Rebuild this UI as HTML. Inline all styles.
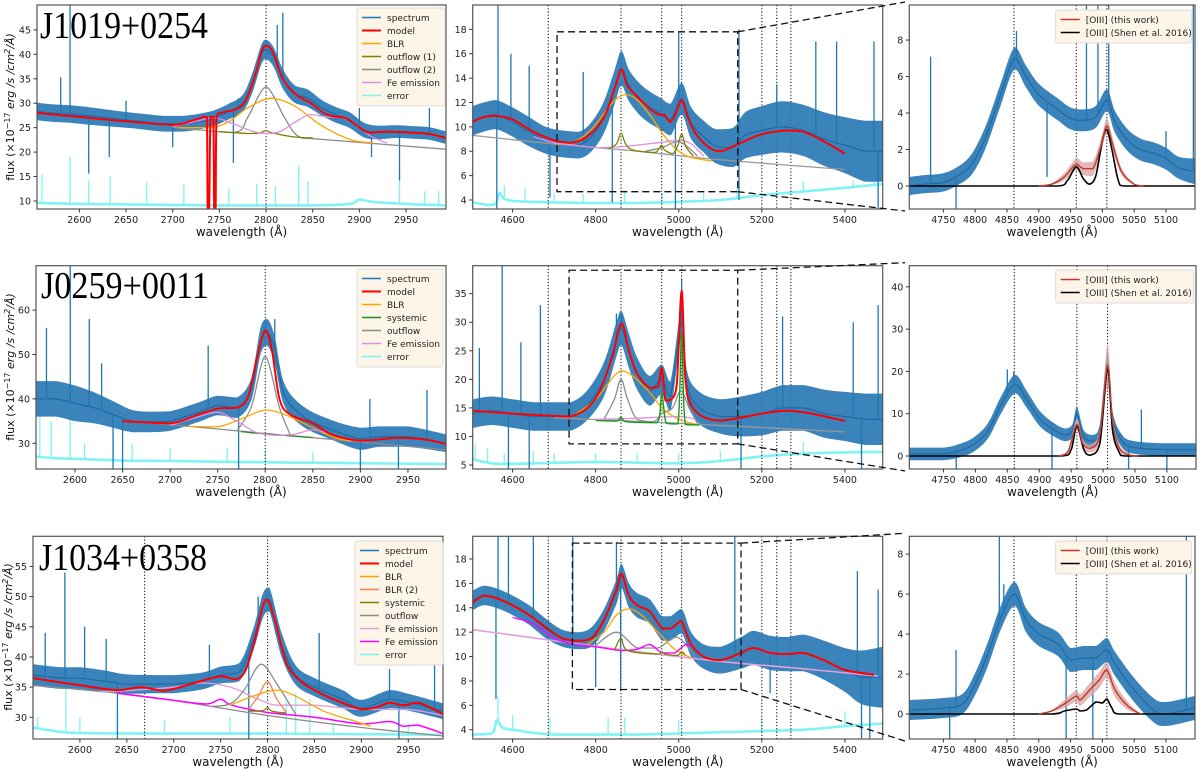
<!DOCTYPE html>
<html><head><meta charset="utf-8"><title>Spectral fits</title>
<style>
html,body{margin:0;padding:0;background:#fff;}
svg{display:block;font-family:"DejaVu Sans","Liberation Sans",sans-serif;}
</style></head>
<body>
<svg id="fig" width="1200" height="770" viewBox="0 0 1200 770" xmlns="http://www.w3.org/2000/svg"></svg>
<script>
// ===== Row 1 : J1019+0254 =====
const r1a_spec = [[2555,28.3,1.8],[2570,28,1.8],[2590,27.8,1.8],[2610,27.4,1.8],[2630,27,1.7],[2650,26.6,1.6],[2670,26.2,1.6],[2690,25.8,1.6],[2710,25.8,1.6],[2730,26.3,1.6],[2745,27,1.6],[2760,28.3,1.6],[2775,30,1.7],[2785,34,2],[2795,40,2],[2800,41,2],[2808,39.5,2],[2818,35,2],[2830,32,1.8],[2845,31,1.8],[2860,29,1.6],[2875,27.6,1.6],[2890,26.5,1.6],[2905,24.5,1.5],[2920,24,1.4],[2940,24.2,1.3],[2960,24,1.3],[2975,23.8,1.3],[2992,23,1.3]];
const r1a_spikes = [[2590,50],[2580,35.3],[2610,15.6],[2632,19],[2765,17.8],[2770,31],[2818,48.5],[2812,46],[2900,29],[2913,19],[2943,14.2],[2975,29],[2650,30.5],[2700,21]];
const r1a_model = [[2555,28],[2600,27.2],[2650,26.3],[2700,25.6],[2720,26.4],[2733,27.2],[2736.5,27.2],[2737.5,8],[2739,8],[2740.5,27.2],[2743.5,27.2],[2744.5,8],[2746,8],[2747,27.4],[2755,28.2],[2768,28.8],[2778,30.5],[2788,35.5],[2796,41],[2801,41.8],[2808,40.2],[2818,35],[2832,31.8],[2848,30],[2862,28],[2872,27.3],[2885,27],[2897,25.5],[2910,24],[2930,24.2],[2955,24],[2975,23.7],[2992,22.9]];
const r1a_blr = [[2705,25],[2740,25],[2760,26.2],[2780,29],[2805,31],[2830,29.5],[2855,26],[2875,23.8],[2895,22.3],[2915,21.9]];
const r1a_out2 = [[2700,25.1],[2765,24],[2780,27],[2792,31.5],[2800,33.3],[2808,31.5],[2820,27],[2835,23.2],[2860,22.6],[2992,20.6]];
const r1a_out1 = [[2750,24.2],[2780,23.8],[2793,23.9],[2800,24.4],[2807,23.9],[2830,23.1],[2850,22.9]];
const r1a_fe = [[2700,25.2],[2725,26.3],[2745,27],[2765,25.8],[2785,24.3],[2800,23.8],[2815,24.2],[2830,26],[2847,27.7],[2865,27.2],[2883,27],[2898,25.5],[2912,23.3],[2930,21.8]];
const r1a_err = [[2555,9.6],[2600,9.4],[2650,9.3],[2700,9.2],[2750,9.1],[2800,9.1],[2850,9.1],[2890,9.4],[2900,10.3],[2915,9.8],[2950,9.4],[2992,9.1]];
const r1a_errSpikes = [[2560,15.5],[2590,19],[2610,14.2],[2633,15],[2672,13.8],[2712,13.5],[2760,12.5],[2790,13.5],[2810,13],[2835,17.3],[2845,14],[2943,15.5],[2970,12],[2985,12]];
const r1a_vlines = [2800];

const r1b_spec = [[4504,10.5,1.2],[4530,10.8,1.2],[4560,11,1.2],[4600,10.4,1.2],[4640,9.6,1.2],[4680,8.9,1.1],[4720,8.6,1.1],[4760,8.5,1.1],[4790,9.2,1.2],[4820,10.8,1.3],[4845,13.2,1.4],[4862,14.8,1.4],[4880,13.4,1.3],[4905,12.3,1.3],[4930,11.6,1.3],[4955,11.1,1.3],[4980,10.6,1.3],[5007,12.3,1.3],[5030,10.3,1.3],[5060,9.2,1.3],[5090,8.4,1.4],[5130,8.3,1.6],[5160,9.3,1.9],[5200,9.7,2],[5250,10,2.1],[5300,9.7,2.1],[5350,9,2.2],[5400,8.5,2.3],[5450,8,2.5],[5491,8,2.5]];
const r1b_spikes = [[4565,20],[4562,3.3],[4596,16],[4640,15],[4690,4.2],[4770,14.5],[4840,3.8],[4992,3.3],[5000,17.8],[5145,18],[5145,4],[5330,17],[5380,17],[5470,17],[5480,3.3],[5236,13.5]];
const r1b_model = [[4504,10.4],[4530,10.8],[4560,10.9],[4600,10.6],[4650,9.6],[4700,8.9],[4740,8.7],[4780,9.2],[4820,10.8],[4848,13.4],[4862,14.7],[4876,13.4],[4900,12.5],[4930,11.5],[4952,11],[4965,11],[4980,10.4],[4995,11.3],[5007,12.2],[5020,11],[5040,9.5],[5070,8.4],[5100,8],[5150,8.7],[5200,9.4],[5260,9.7],[5300,9.6],[5350,8.8],[5400,7.8]];
const r1b_cont = [[4504,9.3],[4700,8.6],[4900,8],[5100,7.3],[5400,6.5]];
const r1b_blr = [[4700,8.6],[4750,8.8],[4790,9.8],[4825,11.3],[4850,12.3],[4875,12.65],[4900,12.2],[4930,11],[4960,9.5],[4990,8.3],[5020,7.6],[5060,7.3],[5080,7.2]];
const r1b_out1 = [[4830,8.2],[4850,8.6],[4861,9.5],[4872,8.6],[4890,8.1],[4940,7.9],[4952,8.2],[4959,8.5],[4966,8.1],[4985,7.8],[4997,8.4],[5007,9.4],[5017,8.4],[5035,7.6]];
const r1b_out2 = [[4920,8],[4960,8.3],[4985,8.7],[5000,8.8],[5020,8.4],[5045,7.6]];
const r1b_fe = [[4650,9.2],[4700,8.7],[4750,8.5],[4800,8.3],[4850,8.35],[4900,8.5],[4950,8.7],[5000,8.9],[5030,8.6],[5060,7.6]];
const r1b_err = [[4504,3.8],[4540,3.6],[4560,3.7],[4568,4.6],[4580,4.1],[4610,3.9],[4700,3.8],[4800,3.75],[4900,3.75],[5000,3.85],[5100,4],[5200,4.4],[5300,4.7],[5400,5],[5491,5.3]];
const r1b_errSpikes = [[4580,5.2],[4630,5],[4700,4.6],[4770,4.5],[4870,4.8],[4960,4.6],[5060,4.6],[5140,5],[5300,5.5],[5420,5.6],[5470,5.5]];
const r1b_box = [4707,5142,4.68,17.8];

const r1c_spec = [[4697,0,0.5],[4720,0.1,0.5],[4750,0.2,0.5],[4770,0.5,0.5],[4790,1,0.55],[4805,1.8,0.6],[4820,3,0.6],[4840,5,0.6],[4862,7,0.6],[4880,6,0.6],[4900,5,0.6],[4930,4.2,0.6],[4950,3.7,0.6],[4970,3.6,0.6],[4990,3.8,0.6],[5007,4.7,0.6],[5020,3.5,0.6],[5040,2.5,0.6],[5060,2,0.6],[5080,1.8,0.6],[5100,1.5,0.6],[5120,1,0.6],[5145,0.8,0.7]];
const r1c_spikes = [[4730,7.1],[4770,-1.26],[4865,8.5],[4975,9.92],[4993,9.92],[5010,9.92],[5143,9.92],[4913,0.5],[5100,3]];
const r1c_work = [[4900,0],[4920,0.1],[4940,0.5],[4955,1.1],[4960,1.2],[4970,0.95],[4985,0.95],[4998,2.2],[5007,3.3],[5016,2.3],[5030,0.8],[5050,0.1],[5065,0]];
const r1c_workErr = [0,0.05,0.2,0.3,0.35,0.35,0.4,0.4,0.4,0.35,0.2,0.05,0];
const r1c_shen = [[4697,0],[4930,0],[4945,0.3],[4959,1.05],[4970,0.4],[4980,0.1],[4990,0.6],[5000,2.5],[5007,3.1],[5015,2],[5025,0.3],[5035,0],[5145,0]];

// ===== Row 2 : J0259+0011 =====
const r2a_spec = [[2559,40,4],[2580,40,4],[2600,39,4],[2620,38,3.5],[2640,36.5,3],[2660,35,2.5],[2680,34.8,2.3],[2700,35,2.2],[2730,37,2.2],[2750,38.5,2.2],[2770,38,2.3],[2785,42,2.5],[2795,53,3],[2802,55,3],[2810,51,3],[2820,41,2.5],[2840,36,2.3],[2870,33,2.2],[2900,31,2.5],[2920,31.5,2.3],[2950,31.5,2.3],[2990,30,2]];
const r2a_spikes = [[2595,70],[2570,56],[2615,58],[2640,24.2],[2650,24.2],[2740,52],[2810,58],[2772,24.2],[2910,40],[2970,42],[2900,24.2],[2940,24.2],[2628,48]];
const r2a_model = [[2650,35],[2700,34.5],[2730,36.5],[2752,37.9],[2770,38],[2782,40.5],[2791,49],[2800,55.5],[2807,51],[2815,40],[2826,36.5],[2850,34.5],[2870,32],[2900,30.6],[2940,31.2],[2970,30.8],[2990,29.8]];
const r2a_cont = [[2650,35],[2700,34.2],[2800,32.2],[2900,30.3],[2990,28.5]];
const r2a_sys = [[2775,32.6],[2800,32.1],[2850,31.3]];
const r2a_blr = [[2720,33.8],[2750,33.7],[2775,35.5],[2800,37.5],[2820,36.5],[2850,33.5],[2870,31.5],[2890,30.4]];
const r2a_out = [[2770,32.7],[2785,38],[2795,47],[2800,49.5],[2805,47],[2815,38],[2826,32]];
const r2a_fe = [[2700,34],[2730,36],[2750,37],[2770,35],[2790,32.5],[2810,31.8],[2830,32],[2850,33],[2870,32],[2890,30.5]];
const r2a_err = [[2559,27],[2580,26.6],[2600,26.5],[2650,26.1],[2700,26],[2800,25.7],[2900,25.5],[2990,25.3]];
const r2a_errSpikes = [[2563,40],[2575,35],[2595,36],[2610,30],[2640,32],[2660,30],[2700,29],[2760,29],[2800,28.5],[2850,28],[2940,28]];
const r2a_vlines = [2800];

const r2b_spec = [[4504,14,2.5],[4550,14.5,2.5],[4600,14,2.5],[4650,13.5,2.5],[4700,13.5,2.5],[4740,13.5,2.5],[4780,15.5,2.6],[4820,20,3],[4850,27,3],[4862,29,3],[4880,25,3],[4900,21,2.8],[4930,18,2.6],[4959,20,2.6],[4980,17,2.6],[5007,30,2.5],[5020,19,2.5],[5050,15,2.8],[5100,13.5,3],[5150,13.5,3.5],[5200,14,3.8],[5250,15,4],[5300,15,4],[5350,14,4.2],[5400,13.5,4.3],[5450,13,4.5],[5491,13,4.5]];
const r2b_spikes = [[4575,39.9],[4667,33],[4620,26.5],[4520,25.5],[4850,31.5],[4862,31.5],[5007,37.5],[4590,4.3],[4640,4.3],[5150,4.3],[5250,31],[5480,33],[5420,30],[5440,4.3]];
const r2b_model = [[4504,14.5],[4600,14],[4700,13.6],[4740,13.5],[4780,15],[4810,18],[4840,24],[4862,29.8],[4880,25],[4900,21],[4930,18.5],[4950,18.7],[4959,22],[4968,16.3],[4980,16.4],[4995,19],[5007,35.5],[5016,20],[5030,15.5],[5060,13.4],[5100,12.8],[5150,13.3],[5200,14],[5260,14.5],[5320,14],[5400,12.7]];
const r2b_cont = [[4700,13.3],[5000,12.3],[5400,10.8]];
const r2b_sys = [[4800,12.8],[4850,12.7],[4861,13.4],[4872,12.6],[4948,12.4],[4959,17.5],[4970,12.3],[4998,12.2],[5007,28],[5016,12.1],[5050,12]];
const r2b_blr = [[4740,13.3],[4800,16.5],[4862,21.5],[4920,18.5],[4960,15],[5000,13],[5050,12]];
const r2b_out = [[4820,13],[4845,16.5],[4861,20],[4877,16.5],[4900,13],[4940,12.6],[4959,14],[4985,15],[5005,18],[5025,15],[5045,12.3]];
const r2b_fe = [[4800,13],[4900,13.2],[5000,13.5],[5040,13]];
const r2b_err = [[4504,6],[4550,5.3],[4600,5.2],[4800,5.5],[5000,5.3],[5100,5.7],[5200,6.5],[5300,7],[5400,7.2],[5491,7.3]];
const r2b_errSpikes = [[4510,8.5],[4540,8],[4580,7],[4650,7.5],[4700,7],[4800,7],[4900,7],[5000,7],[5100,7.5],[5300,9],[5440,9.5]];
const r2b_box = [4736,5142,8.7,39.1];

const r2c_spec = [[4697,0.5,1.5],[4750,0.5,1.5],[4780,1.5,1.6],[4800,3,1.7],[4820,6,1.8],[4840,12,2],[4862,17,2.2],[4880,13.5,2],[4900,9,1.8],[4920,6.5,1.6],[4940,5,1.5],[4952,6,1.5],[4959,10,1.6],[4970,4.5,1.5],[4985,3.5,1.5],[4995,6,1.5],[5007,22,2],[5015,9,1.6],[5030,3.5,1.5],[5050,2,1.5],[5100,1.5,1.5],[5145,1.5,1.5]];
const r2c_spikes = [[4850,20.5],[4860,20],[4770,-3],[4920,-3],[5060,11],[5040,-3],[5100,-3]];
const r2c_work = [[4930,0],[4945,1],[4959,7.5],[4968,3],[4980,1.8],[4995,5],[5007,21.5],[5015,8],[5025,2],[5040,0.3],[5055,0]];
const r2c_workErr = [0,0.5,1.5,1,1,1.5,5,2,1,0.3,0];
const r2c_shen = [[4697,0],[4935,0],[4950,1.5],[4959,7],[4970,1.5],[4980,0.2],[4995,3],[5007,20.5],[5015,6],[5025,1],[5035,0],[5145,0]];

// ===== Row 3 : J1034+0358 =====
const r3a_spec = [[2550,37,1.8],[2580,36.5,1.8],[2600,36.5,1.8],[2625,36,1.8],[2650,35.5,1.6],[2680,35.5,1.5],[2700,35.5,1.5],[2730,36,1.4],[2750,37,1.4],[2770,37.5,1.5],[2785,43,1.8],[2795,48.5,2],[2802,49.5,2],[2815,42,2],[2830,37,1.6],[2850,35,1.5],[2880,33,1.5],[2900,31.5,1.4],[2930,33,1.5],[2950,32.5,1.4],[2987,31,1.3]];
const r3a_spikes = [[2584,54],[2563,44],[2605,45],[2628,43],[2738,42],[2790,50],[2855,44],[2930,38],[2978,40],[2640,26.4],[2780,26.4],[2940,26.4]];
const r3a_model = [[2550,36.5],[2600,35.3],[2640,34.5],[2665,35],[2690,34.4],[2720,35.6],[2750,36.8],[2765,36.3],[2776,37.6],[2786,42.5],[2795,48.5],[2800,49.5],[2808,46],[2820,39],[2835,36],[2850,34.5],[2870,33],[2900,31.3],[2915,31.6],[2930,32.4],[2945,32],[2960,32.4],[2975,31.5],[2987,30.5]];
const r3a_cont = [[2550,35.3],[2640,34],[2700,32.8],[2800,30.3],[2900,28.3],[2987,26.9]];
const r3a_fe2 = [[2640,34],[2700,32.8],[2735,32.2],[2750,33],[2762,32],[2800,30.8],[2850,30],[2900,28.9],[2930,29.3],[2945,28.5],[2960,28.7],[2987,27.3]];
const r3a_fe = [[2620,34.2],[2660,34.5],[2700,35],[2730,35.7],[2760,35],[2790,33],[2810,32],[2850,32],[2900,31.3],[2950,31.3],[2987,30.3]];
const r3a_blr = [[2760,32],[2790,33.8],[2810,34.5],[2830,33.5],[2860,31],[2890,29.5],[2910,28.5]];
const r3a_blr2 = [[2780,31.3],[2790,33.5],[2800,35.9],[2810,33],[2820,30.8]];
const r3a_out = [[2740,31.8],[2760,32.2],[2775,34.5],[2793,38.8],[2810,35.5],[2830,30.5]];
const r3a_sys = [[2780,31],[2795,31.1],[2800,31.6],[2805,31],[2820,30.7]];
const r3a_err = [[2550,28.3],[2570,27.8],[2600,27.4],[2700,27.3],[2800,27.3],[2900,27.2],[2987,27.1]];
const r3a_errSpikes = [[2555,30],[2585,38],[2600,30],[2640,31],[2690,29.5],[2760,30],[2820,33],[2830,34],[2845,33],[2870,29],[2950,29]];
const r3a_vlines = [2669,2800];

const r3b_spec = [[4504,14.6,0.8],[4530,15,0.8],[4560,14.8,0.8],[4600,14.2,0.8],[4640,13.4,0.8],[4680,12.3,0.8],[4720,11.5,0.7],[4760,11.3,0.7],[4790,11.6,0.8],[4820,13,0.9],[4850,15.3,1],[4862,16.6,1],[4880,15,1],[4900,14.2,1],[4930,13.7,1],[4960,12.3,1],[4980,12.3,1],[5007,12.9,1],[5030,11,1],[5060,10,1],[5100,9.7,1.1],[5150,10.3,1.3],[5180,10.7,1.4],[5220,10.3,1.4],[5260,10.2,1.4],[5300,10.3,1.5],[5350,9.7,1.6],[5400,8.9,1.8],[5440,8.3,2.2],[5491,8.3,2.5]];
const r3b_spikes = [[4565,19.86],[4590,19.86],[4650,19.86],[4745,19.86],[4850,19.4],[5135,19.86],[5430,17],[5480,15.5],[4560,6.5],[4800,7.5],[4860,7.2],[5220,7],[5440,3.3],[5460,3.3]];
const r3b_model = [[4504,14.4],[4530,15],[4560,14.8],[4600,14.2],[4640,13.4],[4680,12.4],[4720,11.5],[4760,11.3],[4790,11.5],[4820,13],[4850,15.5],[4862,16.8],[4880,15],[4900,14.2],[4930,13.7],[4960,12.3],[4980,12.3],[5000,12.8],[5007,12.9],[5030,11],[5060,10],[5100,9.7],[5150,10.3],[5180,10.7],[5220,10.3],[5260,10.2],[5300,10.3],[5350,9.7],[5400,8.9],[5470,8.5]];
const r3b_cont = [[4504,12.2],[4700,11.3],[4900,10.4],[5100,9.6],[5300,9],[5480,8.4]];
const r3b_fe2 = [[4600,13.2],[4650,12.7],[4700,11.5],[4750,11],[4800,10.8],[4860,10.5],[4900,10.6],[4930,11],[4960,10.3],[4990,10.3],[5020,11],[5050,10.3]];
const r3b_blr = [[4780,11],[4820,12],[4850,13.4],[4880,13.9],[4910,13.4],[4950,12],[4990,10.6],[5030,9.9]];
const r3b_out = [[4800,10.9],[4850,12],[4900,10.7],[4950,10.7],[4995,11.6],[5040,10]];
const r3b_sys = [[4845,10.5],[4861,11.5],[4877,10.5],[4950,10.2],[4959,10.4],[4968,10.2],[4998,10.1],[5007,10.4],[5016,10.1]];
const r3b_err = [[4504,3.6],[4550,3.7],[4562,4.8],[4575,4.2],[4600,4],[4700,3.6],[4900,3.6],[5100,3.8],[5300,4],[5400,4.3],[5491,4.5]];
const r3b_errSpikes = [[4565,6.8],[4600,5.2],[4690,5],[4830,5],[4870,5],[5000,4.8],[5200,5],[5400,5.5],[5460,5]];
const r3b_box = [4744,5150,7.3,19.3];

const r3c_spec = [[4697,0.2,0.5],[4750,0.3,0.5],[4780,0.5,0.5],[4800,1.5,0.55],[4820,3,0.6],[4840,4.8,0.6],[4862,6,0.6],[4880,4.7,0.6],[4900,4,0.6],[4930,3.5,0.6],[4950,2.7,0.6],[4970,2.8,0.6],[4990,2.8,0.6],[5007,3.2,0.6],[5020,2.5,0.6],[5050,1.2,0.6],[5080,0.2,0.6],[5100,0,0.6],[5145,0.3,0.6]];
const r3c_spikes = [[4838,8.89],[4845,6.5],[5132,8.89],[4760,-1.25],[4943,-1.25],[4985,-1.25],[4770,3.2]];
const r3c_work = [[4900,0],[4920,0.15],[4940,0.5],[4959,0.9],[4965,0.7],[4980,1.2],[4995,1.7],[5007,2.2],[5020,1.2],[5040,0.4],[5060,0]];
const r3c_workErr = [0,0.05,0.2,0.3,0.3,0.35,0.4,0.4,0.35,0.2,0];
const r3c_shen = [[4697,0],[4920,0],[4940,0.15],[4959,0.25],[4965,0.15],[4975,0.2],[4990,0.6],[5000,0.55],[5007,0.75],[5015,0.3],[5025,0],[5145,0]];

const p2Lines = [4686,4861,4959,5007,5200,5236,5270];
const p3Lines = [4861,4959,5007];

const NS = "http://www.w3.org/2000/svg";
const svg = document.getElementById('fig');
function mk(tag, attrs, parent){const e=document.createElementNS(NS,tag);for(const k in attrs)e.setAttribute(k,attrs[k]);(parent||svg).appendChild(e);return e;}
function clampv(v,a,b){const lo=Math.min(a,b),hi=Math.max(a,b);return Math.max(lo,Math.min(hi,v));}
function smooth(pts){ if(pts.length<2)return ''; let d='M'+pts[0][0].toFixed(1)+','+pts[0][1].toFixed(1);
 for(let i=0;i<pts.length-1;i++){const p0=pts[i-1]||pts[i],p1=pts[i],p2=pts[i+1],p3=pts[i+2]||p2;
  const c1=[p1[0]+(p2[0]-p0[0])/6,clampv(p1[1]+(p2[1]-p0[1])/6,p1[1],p2[1])],c2=[p2[0]-(p3[0]-p1[0])/6,clampv(p2[1]-(p3[1]-p1[1])/6,p1[1],p2[1])];
  c1[0]=clampv(c1[0],p1[0],p2[0]);c2[0]=clampv(c2[0],p1[0],p2[0]);
  d+='C'+c1[0].toFixed(1)+','+c1[1].toFixed(1)+' '+c2[0].toFixed(1)+','+c2[1].toFixed(1)+' '+p2[0].toFixed(1)+','+p2[1].toFixed(1);}
 return d;}
let clipId=0;
function panel(cfg){
 const g=mk('g',{});
 
 
 const X=v=>cfg.px[0]+(v-cfg.xd[0])/(cfg.xd[1]-cfg.xd[0])*(cfg.px[1]-cfg.px[0]);
 const Y=v=>cfg.py[1]-(v-cfg.yd[0])/(cfg.yd[1]-cfg.yd[0])*(cfg.py[1]-cfg.py[0]);
 const id='c'+(clipId++);
 const cp=mk('clipPath',{id:id},g);mk('rect',{x:cfg.px[0],y:cfg.py[0],width:cfg.px[1]-cfg.px[0],height:cfg.py[1]-cfg.py[0]},cp);
 const plot=mk('g',{'clip-path':'url(#'+id+')'},g);
 
 
 function line(arr,color,w,name,dash){const p=mk('path',{d:smooth(arr.map(a=>[X(a[0]),Y(a[1])])),fill:'none',stroke:color,'stroke-width':w,'stroke-linejoin':'round'},plot);if(dash)p.setAttribute('stroke-dasharray',dash);
  
  return p;}
 function spikes(arr,base,color,w,name){const gg=mk('g',{},plot);
  
  
  arr.forEach(s=>{let b=interp(base,s[0]);mk('line',{x1:X(s[0]),x2:X(s[0]),y1:Y(b),y2:Y(s[1]),stroke:color,'stroke-width':w},gg);});}
 function interp(arr,x){if(x<=arr[0][0])return arr[0][1];for(let i=0;i<arr.length-1;i++){if(x<=arr[i+1][0]){const t=(x-arr[i][0])/(arr[i+1][0]-arr[i][0]);return arr[i][1]+t*(arr[i+1][1]-arr[i][1]);}}return arr[arr.length-1][1];}
 if(cfg.err){spikes(cfg.errSpikes,cfg.err,'#80f4f4',1.3,'error-spikes');line(cfg.err,'#80f4f4',2.6,'error-line');}
 (cfg.vlines||[]).forEach(v=>{const l=mk('line',{x1:X(v),x2:X(v),y1:cfg.py[0],y2:cfg.py[1],stroke:'#111','stroke-width':1.1,'stroke-dasharray':'1.2,2'},plot);
  
  });
 const sp=cfg.spec;const up=sp.map(a=>[X(a[0]),Y(a[1]+a[2])]),lo=sp.map(a=>[X(a[0]),Y(a[1]-a[2])]).reverse();
 const band=mk('path',{d:smooth(up)+'L'+smooth(lo).slice(1)+'Z',fill:'#2a78b5','fill-opacity':0.92},plot);
 
 
 line(sp.map(a=>[a[0],a[1]]),'#1f6aa5',1.2,'spectrum-center');
 spikes(cfg.spikes,sp.map(a=>[a[0],a[1]]),'#1f77b4',1.3,'spectrum-spikes');
 (cfg.comps||[]).forEach(c=>line(c[0],c[1],c[2]||1.2,c[3]));
 if(cfg.work){const w=cfg.work,e=cfg.workErr;const u=w.map((a,i)=>[X(a[0]),Y(a[1]+e[i])]),l=w.map((a,i)=>[X(a[0]),Y(Math.max(0,a[1]-e[i]))]).reverse();
  const b=mk('path',{d:smooth(u)+'L'+smooth(l).slice(1)+'Z',fill:'#d9a0a0','fill-opacity':0.75},plot);
  
  
  line(cfg.shen,'#000',1.6,'oiii-shen-2016');line(w,'#c0392b',1.4,'oiii-this-work');}
 if(cfg.model)line(cfg.model,'#ff0000',2,'model-line');
 if(cfg.box){const b=cfg.box;const r=mk('rect',{x:X(b[0]),y:Y(b[3]),width:X(b[1])-X(b[0]),height:Y(b[2])-Y(b[3]),fill:'none',stroke:'#111','stroke-width':1.3,'stroke-dasharray':'7,4'},g);
  
  
  const l1=mk('line',{x1:X(b[1]),y1:Y(b[3]),x2:905,y2:cfg.py[0]-3,stroke:'#111','stroke-width':1.3,'stroke-dasharray':'7,4'});
  
  
  const l2=mk('line',{x1:X(b[1]),y1:Y(b[2]),x2:905,y2:cfg.py[1]+2,stroke:'#111','stroke-width':1.3,'stroke-dasharray':'7,4'});
  
  }
 const fr=mk('rect',{x:cfg.px[0],y:cfg.py[0],width:cfg.px[1]-cfg.px[0],height:cfg.py[1]-cfg.py[0],fill:'none',stroke:'#555','stroke-width':1.2},g);
 
 
 const xt=mk('g',{},g);
 cfg.xt.forEach(v=>{mk('line',{x1:X(v),x2:X(v),y1:cfg.py[1],y2:cfg.py[1]+3.5,stroke:'#333'},xt);
  const t=mk('text',{x:X(v),y:cfg.py[1]+14,'font-size':9.5,'text-anchor':'middle',fill:'#222'},xt);t.textContent=v;});
 const yt=mk('g',{},g);
 cfg.yt.forEach(v=>{mk('line',{x1:cfg.px[0]-3.5,x2:cfg.px[0],y1:Y(v),y2:Y(v),stroke:'#333'},yt);
  const t=mk('text',{x:cfg.px[0]-6,y:Y(v)+3.5,'font-size':9.5,'text-anchor':'end',fill:'#222'},yt);t.textContent=v;});
 const xl=mk('text',{x:(cfg.px[0]+cfg.px[1])/2,y:cfg.py[1]+27,'font-size':12,'text-anchor':'middle',fill:'#111'},g);
 xl.textContent='wavelength (Å)';
 
 
 return {g,X,Y};
}
function legend(x,y,w,entries,name){const g=mk('g',{});
 
 
 const h=entries.length*13+7;
 mk('rect',{x:x,y:y,width:w,height:h,rx:2,fill:'#fdf5e8',stroke:'#ddd','stroke-width':1},g);
 entries.forEach((e,i)=>{const yy=y+9.5+i*13;mk('line',{x1:x+5,x2:x+24,y1:yy,y2:yy,stroke:e[1],'stroke-width':e[2]||1.5},g);
  const t=mk('text',{x:x+30,y:yy+3.3,'font-size':9,fill:'#222'},g);t.textContent=e[0];
  
  });}
function title(x,y,txt){const t=mk('text',{x:x,y:y,'font-size':38,'font-family':'"Liberation Serif",serif',fill:'#000',textLength:168,lengthAdjust:'spacingAndGlyphs'});t.textContent=txt;
 
 }
function ylabel(cx,cy){const t=mk('text',{x:0,y:0,'font-size':11,'text-anchor':'middle',fill:'#111',transform:'translate('+cx+','+cy+') rotate(-90)'});
 t.innerHTML='flux (×10<tspan dy="-4" font-size="8">−17</tspan><tspan dy="4"> </tspan><tspan font-style="italic">erg /s /cm</tspan><tspan dy="-4" font-size="8" font-style="italic">2</tspan><tspan dy="4" font-style="italic">/Å)</tspan>';
 
 }

const rows=[{py:[5,209]},{py:[265.7,469]},{py:[536.3,739]}];
const p1x=[[37,446],[36,446],[33,443]];
const p1xd=[[2554.6,2992.8],[2559,2990],[2550,2987]];
const p1yd=[[8.36,50.1],[24.2,70],[26.4,60]];
const p1yt=[[10,15,20,25,30,35,40,45],[30,40,50,60],[30,35,40,45,50,55]];
const p2yd=[[3.26,20],[4.3,39.9],[3.24,19.86]];
const p2yt=[[4,6,8,10,12,14,16,18],[5,10,15,20,25,30,35],[4,6,8,10,12,14,16,18]];
const p3yd=[[-1.26,9.92],[-3.07,45],[-1.25,8.89]];
const p3yt=[[0,2,4,6,8],[0,10,20,30,40],[0,2,4,6,8]];
const p1xt=[2600,2650,2700,2750,2800,2850,2900,2950];
const p2xt=[4600,4800,5000,5200,5400];
const p3xt=[4750,4800,4850,4900,4950,5000,5050,5100];

panel({name:'j1019-mgii-panel',px:p1x[0],py:rows[0].py,xd:p1xd[0],yd:p1yd[0],xt:p1xt,yt:p1yt[0],spec:r1a_spec,spikes:r1a_spikes,err:r1a_err,errSpikes:r1a_errSpikes,vlines:r1a_vlines,
 comps:[[r1a_out2,'#8c8c8c',1.3,'outflow-2'],[r1a_out1,'#808000',1.3,'outflow-1'],[r1a_blr,'#ffa500',1.3,'blr'],[r1a_fe,'#e08ee0',1.3,'fe-emission']],model:r1a_model});
panel({name:'j1019-hbeta-panel',px:[472.7,882.7],py:rows[0].py,xd:[4504,5491],yd:p2yd[0],xt:p2xt,yt:p2yt[0],spec:r1b_spec,spikes:r1b_spikes,err:r1b_err,errSpikes:r1b_errSpikes,vlines:p2Lines,box:r1b_box,
 comps:[[r1b_cont,'#999',1.3,'continuum'],[r1b_out2,'#8c8c8c',1.3,'outflow-2'],[r1b_blr,'#ffa500',1.3,'blr'],[r1b_fe,'#e08ee0',1.3,'fe-emission'],[r1b_out1,'#808000',1.3,'outflow-1']],model:r1b_model});
panel({name:'j1019-oiii-panel',px:[909.3,1195],py:rows[0].py,xd:[4696.5,5145.6],yd:p3yd[0],xt:p3xt,yt:p3yt[0],spec:r1c_spec,spikes:r1c_spikes,vlines:p3Lines,work:r1c_work,workErr:r1c_workErr,shen:r1c_shen});
panel({name:'j0259-mgii-panel',px:p1x[1],py:rows[1].py,xd:p1xd[1],yd:p1yd[1],xt:p1xt,yt:p1yt[1],spec:r2a_spec,spikes:r2a_spikes,err:r2a_err,errSpikes:r2a_errSpikes,vlines:r2a_vlines,
 comps:[[r2a_cont,'#8c8c8c',1.3,'continuum'],[r2a_sys,'#228b22',1.3,'systemic'],[r2a_out,'#8c8c8c',1.3,'outflow'],[r2a_blr,'#ffa500',1.3,'blr'],[r2a_fe,'#e08ee0',1.3,'fe-emission']],model:r2a_model});
panel({name:'j0259-hbeta-panel',px:[472.7,882.7],py:rows[1].py,xd:[4504,5491],yd:p2yd[1],xt:p2xt,yt:p2yt[1],spec:r2b_spec,spikes:r2b_spikes,err:r2b_err,errSpikes:r2b_errSpikes,vlines:p2Lines,box:r2b_box,
 comps:[[r2b_cont,'#999',1.3,'continuum'],[r2b_out,'#8c8c8c',1.3,'outflow'],[r2b_blr,'#ffa500',1.3,'blr'],[r2b_fe,'#e08ee0',1.3,'fe-emission'],[r2b_sys,'#1a9a1a',1.4,'systemic']],model:r2b_model});
panel({name:'j0259-oiii-panel',px:[909.3,1196],py:rows[1].py,xd:[4696.5,5145.6],yd:p3yd[1],xt:p3xt,yt:p3yt[1],spec:r2c_spec,spikes:r2c_spikes,vlines:p3Lines,work:r2c_work,workErr:r2c_workErr,shen:r2c_shen});
panel({name:'j1034-mgii-panel',px:p1x[2],py:rows[2].py,xd:p1xd[2],yd:p1yd[2],xt:p1xt,yt:p1yt[2],spec:r3a_spec,spikes:r3a_spikes,err:r3a_err,errSpikes:r3a_errSpikes,vlines:r3a_vlines,
 comps:[[r3a_cont,'#8c8c8c',1.3,'continuum'],[r3a_fe,'#dda0dd',1.4,'fe-emission'],[r3a_fe2,'#ff00ff',1.5,'fe-emission-2'],[r3a_out,'#8c8c8c',1.3,'outflow'],[r3a_blr,'#ffa500',1.3,'blr'],[r3a_blr2,'#ff7f50',1.3,'blr-2'],[r3a_sys,'#808000',1.3,'systemic']],model:r3a_model});
panel({name:'j1034-hbeta-panel',px:[472.7,882.7],py:rows[2].py,xd:[4504,5491],yd:p2yd[2],xt:p2xt,yt:p2yt[2],spec:r3b_spec,spikes:r3b_spikes,err:r3b_err,errSpikes:r3b_errSpikes,vlines:p2Lines,box:r3b_box,
 comps:[[r3b_cont,'#dda0dd',1.6,'fe-continuum'],[r3b_out,'#8c8c8c',1.3,'outflow'],[r3b_blr,'#ffa500',1.3,'blr'],[r3b_fe2,'#ff00ff',1.4,'fe-emission-2'],[r3b_sys,'#808000',1.3,'systemic']],model:r3b_model});
panel({name:'j1034-oiii-panel',px:[909.3,1195],py:rows[2].py,xd:[4696.5,5145.6],yd:p3yd[2],xt:p3xt,yt:p3yt[2],spec:r3c_spec,spikes:r3c_spikes,vlines:p3Lines,work:r3c_work,workErr:r3c_workErr,shen:r3c_shen});

title(40,38,'J1019+0254');title(41,298,'J0259+0011');title(39,570,'J1034+0358');
ylabel(14,107);ylabel(14,367);ylabel(12,637);
legend(357,8,88,[['spectrum','#1f77b4'],['model','#ff0000',2],['BLR','#ffa500'],['outflow (1)','#808000'],['outflow (2)','#8c8c8c'],['Fe emission','#e08ee0'],['error','#80f4f4']],'legend-j1019');
legend(357,269,86,[['spectrum','#1f77b4'],['model','#ff0000',2],['BLR','#ffa500'],['systemic','#228b22'],['outflow','#8c8c8c'],['Fe emission','#e08ee0'],['error','#80f4f4']],'legend-j0259');
legend(355,541,88,[['spectrum','#1f77b4'],['model','#ff0000',2],['BLR','#ffa500'],['BLR (2)','#ff7f50'],['systemic','#808000'],['outflow','#8c8c8c'],['Fe emission','#dda0dd'],['Fe emission','#ff00ff'],['error','#80f4f4']],'legend-j1034');
legend(1055.7,10,136,[['[OIII] (this work)','#c0392b'],['[OIII] (Shen et al. 2016)','#000']],'legend-oiii-j1019');
legend(1055.7,270,138,[['[OIII] (this work)','#c0392b'],['[OIII] (Shen et al. 2016)','#000']],'legend-oiii-j0259');
legend(1055.7,541,136,[['[OIII] (this work)','#c0392b'],['[OIII] (Shen et al. 2016)','#000']],'legend-oiii-j1034');
</script>
</body></html>
